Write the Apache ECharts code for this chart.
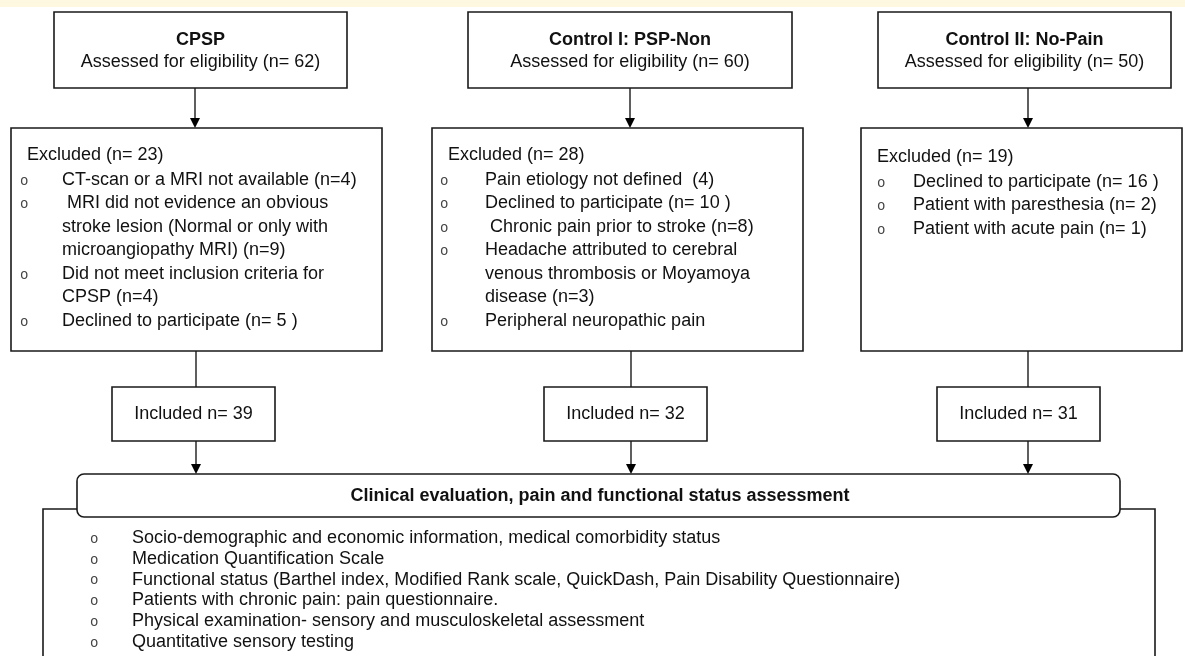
<!DOCTYPE html>
<html>
<head>
<meta charset="utf-8">
<script src="https://cdn.jsdelivr.net/npm/echarts@6/dist/echarts.min.js"></script>
<style>
  html, body { margin: 0; padding: 0; background: #fff; }
  #main { width: 1185px; height: 656px; }
</style>
</head>
<body>
<div id="main"></div>
<script>
// study groups
const groupNames = ["CPSP", "Control I: PSP-Non", "Control II: No-Pain"];
const assessedN = [62, 60, 50];
const excludedN = [23, 28, 19];
const includedN = [39, 32, 31];

// exclusion reasons, one entry per bullet, each one a list of wrapped lines
const cpspReasons = [
  ["CT-scan or a MRI not available (n=4)"],
  [" MRI did not evidence an obvious", "stroke lesion (Normal or only with", "microangiopathy MRI) (n=9)"],
  ["Did not meet inclusion criteria for", "CPSP (n=4)"],
  ["Declined to participate (n= 5 )"]
];
const pspNonReasons = [
  ["Pain etiology not defined  (4)"],
  ["Declined to participate (n= 10 )"],
  [" Chronic pain prior to stroke (n=8)"],
  ["Headache attributed to cerebral", "venous thrombosis or Moyamoya", "disease (n=3)"],
  ["Peripheral neuropathic pain"]
];
const noPainReasons = [
  ["Declined to participate (n= 16 )"],
  ["Patient with paresthesia (n= 2)"],
  ["Patient with acute pain (n= 1)"]
];
const excludedReasons = [cpspReasons, pspNonReasons, noPainReasons];

const assessmentTitle = "Clinical evaluation, pain and functional status assessment";
const assessmentItems = [
  "Socio-demographic and economic information, medical comorbidity status",
  "Medication Quantification Scale",
  "Functional status (Barthel index, Modified Rank scale, QuickDash, Pain Disability Questionnaire)",
  "Patients with chronic pain: pain questionnaire.",
  "Physical examination- sensory and musculoskeletal assessment",
  "Quantitative sensory testing"
];

// layout (pixels)
const FONT = "Liberation Sans, Arial, sans-serif";
const FS = 18;
const INK = "#111";
const LINE = "#1a1a1a";
const cols = [
  { top: [54, 347], arrow1: 195, excl: [11, 382], line: 196, incl: [112, 275], bulletX: 20, textX: 62, dy: 0 },
  { top: [468, 792], arrow1: 630, excl: [432, 803], line: 631, incl: [544, 707], bulletX: 440, textX: 485, dy: 0 },
  { top: [878, 1171], arrow1: 1028, excl: [861, 1182], line: 1028, incl: [937, 1100], bulletX: 877, textX: 913, dy: 2 }
];

const g = [];

function rect(x1, y1, x2, y2, r) {
  g.push({
    type: "rect",
    shape: { x: x1, y: y1, width: x2 - x1, height: y2 - y1, r: r || 0 },
    style: { fill: "#fff", stroke: LINE, lineWidth: 1.6 }
  });
}
function line(x1, y1, x2, y2) {
  g.push({ type: "line", shape: { x1, y1, x2, y2 }, style: { stroke: LINE, lineWidth: 1.4 } });
}
function arrow(x, y1, y2) {
  line(x, y1, x, y2 - 9);
  g.push({
    type: "polygon",
    shape: { points: [[x - 5, y2 - 10], [x + 5, y2 - 10], [x, y2]] },
    style: { fill: "#000" }
  });
}
function text(str, x, y, opts) {
  opts = opts || {};
  g.push({
    type: "text",
    x: x,
    y: y,
    style: {
      text: str,
      fontSize: opts.fontSize || FS,
      fontFamily: opts.fontFamily || FONT,
      fontWeight: opts.bold ? "bold" : "normal",
      fill: opts.fill || INK,
      align: opts.align || "left",
      verticalAlign: "middle"
    }
  });
}
function bullet(x, y) {
  text("o", x, y + 1, { fontFamily: "Liberation Mono, monospace", fontSize: 14, fill: "#444" });
}

// cream band across the top
g.push({ type: "rect", shape: { x: 0, y: 0, width: 1185, height: 7 }, style: { fill: "#FFF8E1" } });

// bottom outer frame, under the rounded title box
g.push({
  type: "rect",
  shape: { x: 43, y: 509, width: 1155 - 43, height: 200 },
  style: { fill: "#fff", stroke: LINE, lineWidth: 1.6 }
});

cols.forEach(function (c, i) {
  const cx = (c.top[0] + c.top[1]) / 2;
  rect(c.top[0], 12, c.top[1], 88);
  text(groupNames[i], cx, 40, { bold: true, align: "center" });
  text("Assessed for eligibility (n= " + assessedN[i] + ")", cx, 62, { align: "center" });

  arrow(c.arrow1, 88, 128);

  rect(c.excl[0], 128, c.excl[1], 351);
  text("Excluded (n= " + excludedN[i] + ")", c.excl[0] + 16, 155 + c.dy);
  let row = 0;
  excludedReasons[i].forEach(function (reason) {
    reason.forEach(function (ln, k) {
      const y = 180 + c.dy + row * 23.5;
      if (k === 0) bullet(c.bulletX, y);
      text(ln, c.textX, y);
      row++;
    });
  });

  line(c.line, 351, c.line, 387);
  rect(c.incl[0], 387, c.incl[1], 441);
  text("Included n= " + includedN[i], (c.incl[0] + c.incl[1]) / 2, 414, { align: "center" });
  arrow(c.line, 441, 474);
});

rect(77, 474, 1120, 517, 7);
text(assessmentTitle, 600, 496, { bold: true, align: "center" });
assessmentItems.forEach(function (item, i) {
  const y = 538 + i * 20.8;
  bullet(90, y);
  text(item, 132, y);
});

const chart = echarts.init(document.getElementById("main"), null, { renderer: "canvas" });
chart.setOption({
  animation: false,
  backgroundColor: "#fff",
  graphic: g
});
</script>
</body>
</html>
